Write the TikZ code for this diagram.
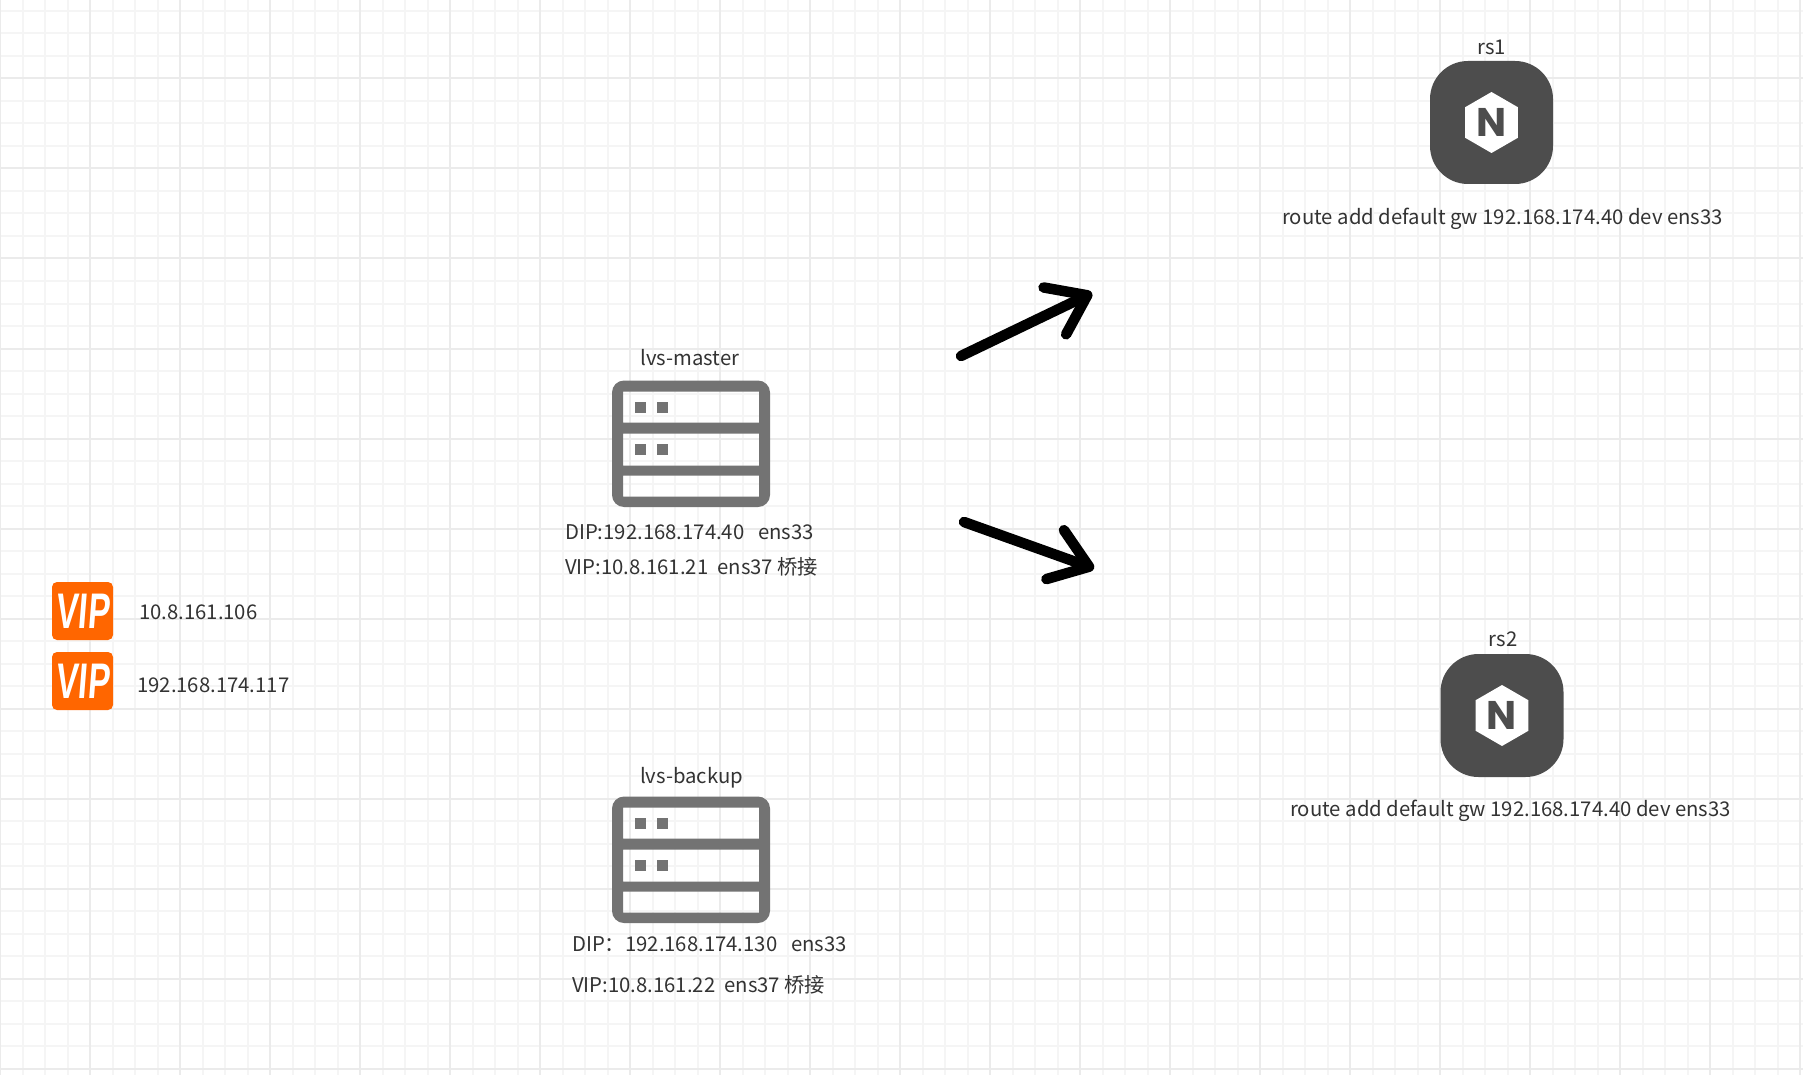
\documentclass[tikz,border=0pt]{standalone}
\usepackage{fontspec}
\setmainfont{Noto Sans CJK SC}
\newfontfamily\vipfont[FakeStretch=0.66,FakeSlant=0.08]{Liberation Sans}
\newfontfamily\logofont{Poppins}
\usetikzlibrary{positioning,arrows.meta,shapes}
\definecolor{gridminor}{HTML}{F5F5F5}
\definecolor{gridmajor}{HTML}{EBEBEB}
\definecolor{labeltext}{HTML}{333333}
\definecolor{servergray}{HTML}{737373}
\definecolor{nginxgray}{HTML}{4D4D4D}
\definecolor{viporange}{HTML}{FF6600}

\begin{document}
\begin{tikzpicture}[
  x=1pt, y=-1pt,
  font=\fontsize{20.3}{24}\selectfont,
  lbl/.style={text=labeltext, inner sep=0pt},
  txt/.style={lbl, anchor=west},
  vipbox/.style={rectangle, rounded corners=5pt, fill=viporange, text=white, inner sep=0pt,
                 minimum width=61pt, minimum height=58pt,
                 font=\vipfont\bfseries\fontsize{50}{50}\selectfont},
  nginxbox/.style={rectangle, rounded corners=38pt, fill=nginxgray, inner sep=0pt,
                   minimum width=123pt, minimum height=123pt},
  hexbox/.style={regular polygon, regular polygon sides=6, shape border rotate=30, fill=white,
                 text=nginxgray, inner sep=0pt, minimum size=61pt,
                 font=\logofont\bfseries\fontsize{40}{40}\selectfont},
  flow/.style={-{Straight Barb[length=36pt,width=52pt,round]}, line width=10.5pt, line cap=round,
               line join=round, black},
  server/.pic={
    \fill[servergray, even odd rule, rounded corners=12pt] (0,0) rectangle (158,126.5)
      [sharp corners] (11,11) rectangle (147,42) (11,53) rectangle (147,85) (11,95) rectangle (147,116);
    \foreach \sy in {21,63} {
      \fill[servergray] (23,\sy) rectangle ++(11,11);
      \fill[servergray] (45,\sy) rectangle ++(11,11);
    }
  }
]
\useasboundingbox (0,0) rectangle (1803,1075);
\fill[white] (0,0) rectangle (1803,1075);

% grid
\foreach \gx in {0,22.5,...,1803} \draw[gridminor, line width=2pt] (\gx,0) -- (\gx,1075);
\foreach \gy in {11,33.5,...,1075} \draw[gridminor, line width=2pt] (0,\gy) -- (1803,\gy);
\foreach \gx in {0,90,...,1803} \draw[gridmajor, line width=2pt] (\gx,0) -- (\gx,1075);
\foreach \gy in {78.5,168.5,...,1075} \draw[gridmajor, line width=2pt] (0,\gy) -- (1803,\gy);

% vip
\node[vipbox] (vip1) at (82.5,611) {VIP};
\node[vipbox] (vip2) at (82.5,681) {VIP};
\node[txt] (vip1ip) at (139,612) {10.8.161.106};
\node[txt] (vip2ip) at (137,685) {192.168.174.117};

% lvs
\pic at (612,380.5) {server};
\pic at (612,796.5) {server};
\node[lbl] (master) at (690,358) {lvs-master};
\node[txt] (masterdip) at (565,532) {DIP:192.168.174.40\ \ \ ens33};
\node[txt] (mastervip) at (565,567) {VIP:10.8.161.21\ \ ens37 桥接};
\node[lbl] (backup) at (691.5,778) {lvs-backup};
\node[txt] (backupdip) at (572,944) {DIP：192.168.174.130\ \ \ ens33};
\node[txt] (backupvip) at (572,985) {VIP:10.8.161.22\ \ ens37 桥接};

% real servers
\node[nginxbox] (rs1) at (1491.5,122.5) {};
\node[hexbox] (rs1hex) at (rs1) {N};
\node[lbl] (rs1name) at (1491.5,47) {rs1};
\node[txt] (rs1route) at (1282,219) {route add default gw 192.168.174.40 dev ens33};
\node[nginxbox] (rs2) at (1502,715.5) {};
\node[hexbox] (rs2hex) at (rs2) {N};
\node[lbl] (rs2name) at (1503,639) {rs2};
\node[txt] (rs2route) at (1290,811) {route add default gw 192.168.174.40 dev ens33};

% arrows
\coordinate (up0) at (961,356);
\coordinate (up1) at (1092,293);
\coordinate (down0) at (964,522);
\coordinate (down1) at (1094,568.5);
\draw[flow] (up0) -- (up1);
\draw[flow] (down0) -- (down1);
\end{tikzpicture}
\end{document}
